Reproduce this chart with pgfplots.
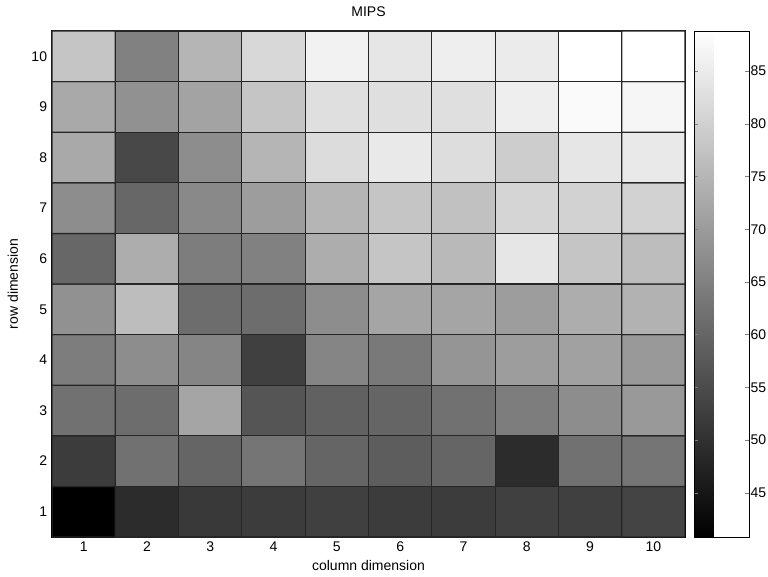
\documentclass[border=0pt]{standalone}
\usepackage{fontspec}
\setmainfont{Liberation Sans}
\usepackage{pgfplots}
\pgfplotsset{compat=1.18}

\begin{document}
\fontsize{10.5}{12}\selectfont
\begin{tikzpicture}
\begin{axis}[
    name=ax,
    scale only axis,
    width=474.75pt,
    height=379.5pt,
    xmin=0.5, xmax=10.5,
    ymin=0.5, ymax=10.5,
    xtick={1,...,10},
    ytick={1,...,10},
    major tick length=0pt,
    tick label style={font=\fontsize{10.5}{12}\selectfont},
    label style={font=\fontsize{10.5}{12}\selectfont},
    title style={font=\fontsize{10.5}{12}\selectfont, yshift=1pt},
    title={MIPS},
    xlabel={column dimension},
    ylabel={row dimension},
    xlabel style={yshift=1pt},
    ylabel style={yshift=3pt},
    /pgf/number format/assume math mode=true,
    colormap/blackwhite,
    colorbar,
    colorbar style={
        at={(parent axis.north east)},
        anchor=north west,
        xshift=-1.5pt,
        width=41pt,
        ytick={45,50,...,85},
        major tick length=3pt,
        ytick pos=both,
        yticklabel pos=right,
        tick align=inside,
        tick label style={font=\fontsize{10.5}{12}\selectfont},
        yticklabel style={xshift=-2.5pt},
        /pgf/number format/assume math mode=true,
    },
    axis line style={line width=0.8pt},
]
\addplot[matrix plot*, mesh/cols=10, point meta=explicit, draw=black!85, line width=0.9pt]
table[meta=c] {
x y c
1 1 40.8
2 1 49.0
3 1 51.4
4 1 52.1
5 1 52.8
6 1 52.1
7 1 52.1
8 1 52.8
9 1 52.8
10 1 53.6
1 2 52.1
2 2 61.9
3 2 59.6
4 2 62.7
5 2 59.6
6 2 58.1
7 2 59.6
8 2 49.0
9 2 61.9
10 2 62.7
1 3 61.9
2 3 61.1
3 3 71.6
4 3 56.6
5 3 58.9
6 3 59.6
7 3 61.9
8 3 64.1
9 3 67.1
10 3 69.4
1 4 64.1
2 4 67.1
3 4 65.6
4 4 52.8
5 4 65.6
6 4 63.4
7 4 68.7
8 4 70.2
9 4 70.9
10 4 69.4
1 5 67.9
2 5 76.2
3 5 61.1
4 5 61.1
5 5 67.1
6 5 71.6
7 5 71.6
8 5 70.2
9 5 73.1
10 5 74.0
1 6 60.0
2 6 73.1
3 6 64.1
4 6 64.9
5 6 73.1
6 6 77.7
7 6 75.4
8 6 83.7
9 6 77.7
10 6 76.2
1 7 67.1
2 7 60.0
3 7 66.4
4 7 70.2
5 7 74.7
6 7 77.7
7 7 76.9
8 7 80.7
9 7 80.0
10 7 80.0
1 8 72.4
2 8 54.3
3 8 67.1
4 8 74.7
5 8 82.0
6 8 84.4
7 8 82.2
8 8 79.1
9 8 83.7
10 8 84.4
1 9 72.4
2 9 67.9
3 9 71.3
4 9 77.7
5 9 82.4
6 9 82.4
7 9 82.4
8 9 85.2
9 9 87.5
10 9 86.7
1 10 77.7
2 10 64.9
3 10 74.7
4 10 81.1
5 10 86.0
6 10 83.7
7 10 85.2
8 10 84.8
9 10 88.8
10 10 88.8
};
\end{axis}
\pgfresetboundingbox
\path[use as bounding box] (ax.south west) ++(-39pt,-29.25pt) rectangle ++(576pt,432pt);
\end{tikzpicture}
\end{document}
